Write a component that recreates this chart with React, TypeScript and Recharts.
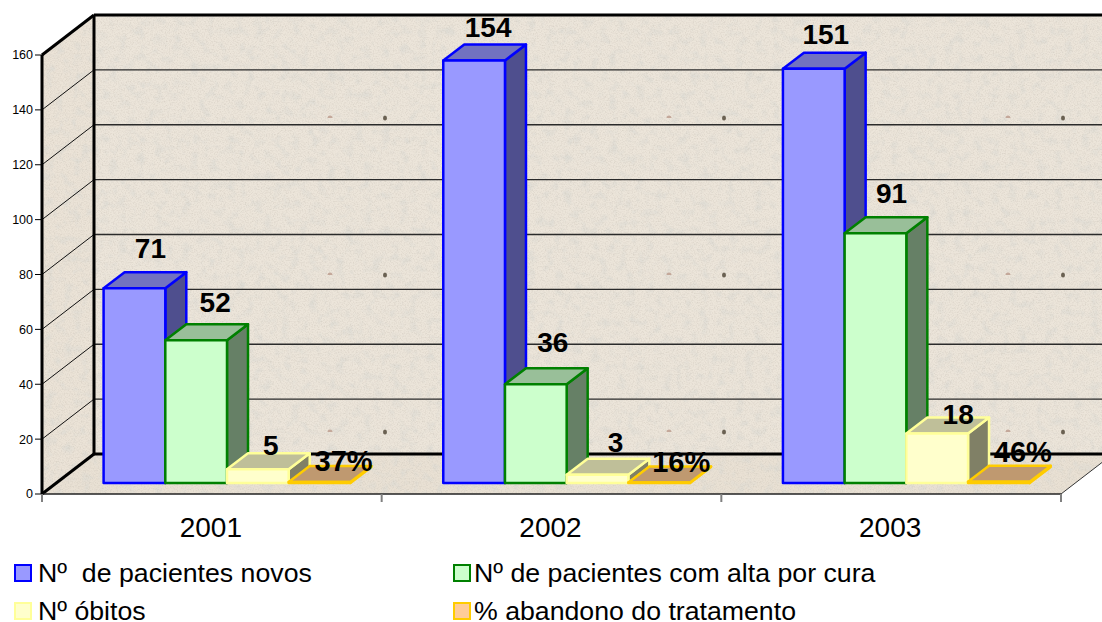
import { BarChart, Bar, XAxis, YAxis, CartesianGrid, Legend, LabelList } from "recharts";

const years = ["2001", "2002", "2003"];
const novos = [71, 154, 151];
const alta = [52, 36, 91];
const obitos = [5, 3, 18];
const abandono = [0.37, 0.16, 0.46];
const yTicks = [0, 20, 40, 60, 80, 100, 120, 140, 160];

const data = years.map((year, i) => ({
  year,
  novos: novos[i],
  alta: alta[i],
  obitos: obitos[i],
  abandono: abandono[i],
}));

const W = 1102;
const H = 622;
const LEFT = 42;
const RIGHT = 1061;
const TOP = 55;
const BOTTOM = 494;
// depth of the whole 3D box, and of a single bar
const WALL_DX = 52;
const WALL_DY = -40;
const BAR_DX = 21;
const BAR_DY = -16;
// bars stand in the middle of the floor
const SHIFT_X = 15.6;
const SHIFT_Y = -11;
const BAND = (RIGHT - LEFT) / years.length;
const FONT = "'Liberation Sans', Arial, sans-serif";

const SERIES = {
  novos: { front: "#9999ff", top: "#7272c0", side: "#4f4f8e", line: "#0000ff" },
  alta: { front: "#ccffcc", top: "#99bf99", side: "#668066", line: "#008000" },
  obitos: { front: "#ffffcc", top: "#bfbf99", side: "#808066", line: "#ffff99" },
  abandono: { front: "#ffcc99", top: "#bf9970", side: "#806650", line: "#ffcc00" },
};

// hand placed labels, relative to the front top centre of each bar
const LABEL_NUDGE = {
  novos: [[16, -40], [14, -33], [12, -34]],
  alta: [[19, -38], [17, -42], [16, -40]],
  obitos: [[13, -24], [18, -32], [21, -19]],
  abandono: [[24, -21], [22, -21], [24, -30]],
};

function bar3d(colors: typeof SERIES.novos) {
  return (props: any) => {
    const x = props.x + SHIFT_X;
    const y = props.y + SHIFT_Y;
    const w = props.width;
    const h = props.height;
    const common = { stroke: colors.line, strokeWidth: 2.5, strokeLinejoin: "round" as const };
    return (
      <g>
        <path
          d={`M${x + w},${y} l${BAR_DX},${BAR_DY} v${h} l${-BAR_DX},${-BAR_DY} z`}
          fill={colors.side}
          {...common}
        />
        <path
          d={`M${x},${y} l${BAR_DX},${BAR_DY} h${w} l${-BAR_DX},${-BAR_DY} z`}
          fill={colors.top}
          {...common}
        />
        <rect x={x} y={y} width={w} height={h} fill={colors.front} {...common} />
      </g>
    );
  };
}

function barLabel(nudges: number[][], percent?: boolean) {
  return (props: any) => {
    const { x, y, width, value, index } = props;
    const [dx, dy] = nudges[index];
    const text = percent ? `${Math.round(value * 100)}%` : value;
    return (
      <text
        x={x + SHIFT_X + width / 2 + dx}
        y={y + SHIFT_Y + dy}
        textAnchor="middle"
        dominantBaseline="central"
        fontFamily={FONT}
        fontWeight="bold"
        fontSize={percent ? 29 : 28}
        fill="#000"
      >
        {text}
      </text>
    );
  };
}

function gridLine(props: any) {
  const { x1, x2, y1, index } = props;
  const heavy = index === 0 || index === yTicks.length - 1;
  const w = heavy ? 3 : 1.3;
  const color = heavy ? "#000" : "#2a2a2a";
  return (
    <g key={`grid-${index}`}>
      <line
        x1={x1 + WALL_DX}
        x2={x2 + WALL_DX + 1}
        y1={y1 + WALL_DY}
        y2={y1 + WALL_DY}
        stroke={color}
        strokeWidth={w}
      />
      <line
        x1={x1}
        y1={y1}
        x2={x1 + WALL_DX}
        y2={y1 + WALL_DY}
        stroke={heavy ? "#000" : "#111"}
        strokeWidth={heavy ? 3 : 1}
      />
    </g>
  );
}

function YearTick(props: any) {
  const { x, payload, index } = props;
  const edge = x - BAND / 2;
  return (
    <g>
      <line x1={edge} x2={edge} y1={BOTTOM} y2={BOTTOM + 8} stroke="#808080" strokeWidth={2} />
      {index === years.length - 1 && (
        <line x1={edge + BAND} x2={edge + BAND} y1={BOTTOM} y2={BOTTOM + 8} stroke="#808080" strokeWidth={2} />
      )}
      <text
        x={x - 1}
        y={BOTTOM + 43}
        textAnchor="middle"
        fontFamily={FONT}
        fontSize={28}
        fill="#000"
      >
        {payload.value}
      </text>
    </g>
  );
}

function LegendBox({ payload }: any) {
  return (
    <div
      style={{
        display: "grid",
        gridTemplateColumns: "438.5px 1fr",
        rowGap: 16,
        fontFamily: FONT,
        fontSize: 26.7,
        lineHeight: "22px",
        color: "#000",
        textAlign: "left",
      }}
    >
      {(payload || []).map((entry: any, i: number) => {
        const colors = SERIES[entry.dataKey as keyof typeof SERIES];
        return (
          <div key={entry.dataKey} style={{ display: "flex", alignItems: "center", whiteSpace: "pre" }}>
            <span
              style={{
                width: 14,
                height: 14,
                marginRight: i % 2 ? 3.5 : 6,
                background: colors.front,
                border: `2.5px solid ${colors.line}`,
                boxSizing: "content-box",
              }}
            />
            {entry.value}
          </div>
        );
      })}
    </div>
  );
}

function Walls() {
  const backX = LEFT + WALL_DX;
  const backTop = TOP + WALL_DY;
  const backBottom = BOTTOM + WALL_DY;
  return (
    <svg
      width={W}
      height={H}
      style={{ position: "absolute", left: 0, top: 0 }}
    >
      <defs>
        <filter id="stone" x="0" y="0" width="100%" height="100%">
          <feTurbulence type="fractalNoise" baseFrequency="0.75" numOctaves="2" seed="7" result="fine" />
          <feColorMatrix
            in="fine"
            type="matrix"
            values="0 0 0 0 0.6  0 0 0 0 0.55  0 0 0 0 0.48  1.2 0 0 0 -0.5"
            result="grain"
          />
          <feTurbulence type="fractalNoise" baseFrequency="0.11" numOctaves="3" seed="3" result="coarse" />
          <feColorMatrix
            in="coarse"
            type="matrix"
            values="0 0 0 0 0.72  0 0 0 0 0.71  0 0 0 0 0.66  2 0 0 0 -0.95"
            result="blotch"
          />
          <feMerge result="merged">
            <feMergeNode in="SourceGraphic" />
            <feMergeNode in="blotch" />
            <feMergeNode in="grain" />
          </feMerge>
          <feComposite in="merged" in2="SourceAlpha" operator="in" />
        </filter>
        <pattern id="specks" width={339} height={157} patternUnits="userSpaceOnUse" x={46} y={-39}>
          <ellipse cx={339} cy={0} rx={2} ry={2.5} fill="#6a6152" />
          <ellipse cx={0} cy={0} rx={2} ry={2.5} fill="#6a6152" />
          <ellipse cx={339} cy={157} rx={2} ry={2.5} fill="#6a6152" />
          <ellipse cx={0} cy={157} rx={2} ry={2.5} fill="#6a6152" />
          <ellipse cx={284} cy={157} rx={2.5} ry={2.5} fill="#c4a89a" />
        </pattern>
      </defs>
      <g filter="url(#stone)">
        <path
          d={`M${backX},${backTop} H${W} V${backBottom} H${backX} Z`}
          fill="#ece5da"
        />
        <path
          d={`M${LEFT},${TOP} L${backX},${backTop} V${backBottom} L${LEFT},${BOTTOM} Z`}
          fill="#ebe3d7"
        />
        <path
          d={`M${LEFT},${BOTTOM} L${backX},${backBottom} H${W} V${BOTTOM + (W - RIGHT) * (WALL_DY / WALL_DX)} L${RIGHT},${BOTTOM} Z`}
          fill="#e9e1d4"
        />
      </g>
      <rect x={backX} y={backTop} width={W - backX} height={backBottom - backTop} fill="url(#specks)" />
    </svg>
  );
}

function RightEdges() {
  return (
    <g>
      <line
        x1={RIGHT}
        y1={BOTTOM}
        x2={RIGHT + WALL_DX}
        y2={BOTTOM + WALL_DY}
        stroke="#333"
        strokeWidth={1}
      />
      <line
        x1={LEFT + WALL_DX}
        y1={TOP + WALL_DY}
        x2={LEFT + WALL_DX}
        y2={BOTTOM + WALL_DY}
        stroke="#000"
        strokeWidth={3}
      />
    </g>
  );
}

export default function App() {
  return (
    <div style={{ position: "absolute", left: 0, top: 0, width: W, height: H, overflow: "hidden", background: "#fff" }}>
      <Walls />
      <div style={{ position: "absolute", left: 0, top: 0 }}>
        <BarChart
          width={W}
          height={H}
          data={data}
          margin={{ top: TOP, right: W - RIGHT, bottom: 0, left: 0 }}
          barSize={61.7}
          barGap={0}
          barCategoryGap={0}
        >
          <CartesianGrid vertical={false} horizontal={gridLine} syncWithTicks />
          <XAxis
            dataKey="year"
            height={H - BOTTOM}
            tick={<YearTick />}
            tickLine={false}
            axisLine={{ stroke: "#222", strokeWidth: 1.3 }}
            interval={0}
          />
          <YAxis
            width={LEFT}
            type="number"
            domain={[0, 160]}
            ticks={yTicks}
            interval={0}
            tick={{ fontSize: 12.5, fontFamily: FONT, fill: "#000" }}
            tickSize={7}
            tickMargin={2}
            tickLine={{ stroke: "#000", strokeWidth: 1 }}
            axisLine={{ stroke: "#000", strokeWidth: 3 }}
          />
          <RightEdges />
          <Legend
            layout="horizontal"
            verticalAlign="middle"
            align="center"
            width={1080}
            itemSorter={null}
            content={<LegendBox />}
            wrapperStyle={{ top: 562, left: 14, bottom: "auto", right: "auto" }}
          />
          <Bar dataKey="novos" name="Nº  de pacientes novos" isAnimationActive={false} shape={bar3d(SERIES.novos)}>
            <LabelList dataKey="novos" content={barLabel(LABEL_NUDGE.novos)} />
          </Bar>
          <Bar dataKey="alta" name="Nº de pacientes com alta por cura" isAnimationActive={false} shape={bar3d(SERIES.alta)}>
            <LabelList dataKey="alta" content={barLabel(LABEL_NUDGE.alta)} />
          </Bar>
          <Bar dataKey="obitos" name="Nº óbitos" isAnimationActive={false} shape={bar3d(SERIES.obitos)}>
            <LabelList dataKey="obitos" content={barLabel(LABEL_NUDGE.obitos)} />
          </Bar>
          <Bar dataKey="abandono" name="% abandono do tratamento" isAnimationActive={false} shape={bar3d(SERIES.abandono)}>
            <LabelList dataKey="abandono" content={barLabel(LABEL_NUDGE.abandono, true)} />
          </Bar>
        </BarChart>
      </div>
    </div>
  );
}
